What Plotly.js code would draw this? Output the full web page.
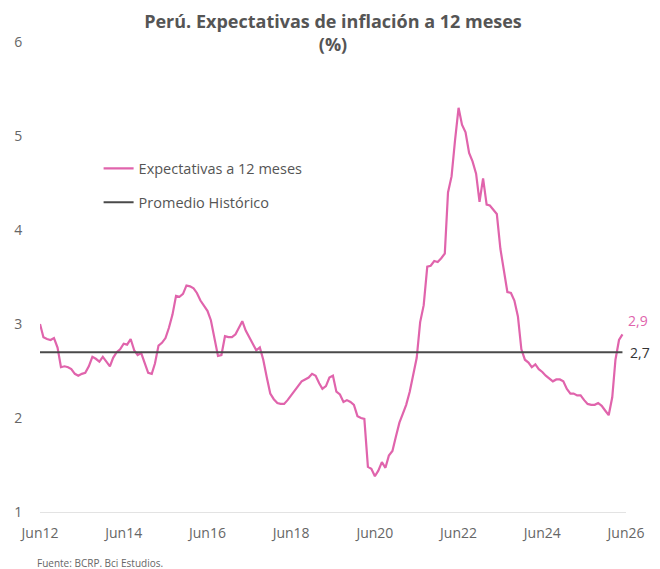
<!DOCTYPE html>
<html>
<head>
<meta charset="utf-8">
<script src="https://cdn.plot.ly/plotly-3.0.1.min.js"></script>
<style>html,body{margin:0;padding:0;background:#fff;}#chart{width:660px;height:569px;}</style>
</head>
<body>
<div id="chart"></div>
<script>
// Monthly series starting Jun 2012
var startYear = 2012, startMonth = 6;
var expectativas = [
3.00,2.86,2.84,2.83,2.85,2.75,2.54,2.55,2.54,2.52,2.47,2.45,
2.47,2.48,2.55,2.65,2.63,2.60,2.65,2.60,2.55,2.64,2.70,2.73,
2.79,2.78,2.84,2.72,2.67,2.69,2.58,2.48,2.47,2.58,2.77,2.80,
2.85,2.96,3.10,3.30,3.29,3.32,3.41,3.40,3.38,3.33,3.25,3.20,
3.14,3.04,2.83,2.66,2.67,2.87,2.86,2.86,2.89,2.96,3.03,2.93,
2.86,2.78,2.72,2.75,2.62,2.43,2.26,2.20,2.16,2.15,2.15,2.19,
2.24,2.29,2.34,2.39,2.41,2.43,2.47,2.45,2.37,2.31,2.34,2.43,
2.45,2.28,2.25,2.17,2.19,2.17,2.14,2.02,2.00,1.99,1.48,1.46,
1.38,1.44,1.53,1.47,1.60,1.65,1.80,1.95,2.05,2.14,2.28,2.46,
2.64,3.02,3.20,3.61,3.62,3.67,3.66,3.70,3.75,4.40,4.57,4.95,
5.30,5.12,5.04,4.82,4.73,4.60,4.30,4.55,4.27,4.26,4.21,4.17,
3.80,3.57,3.34,3.33,3.25,3.08,2.73,2.62,2.59,2.54,2.57,2.52,
2.49,2.45,2.42,2.39,2.41,2.41,2.39,2.31,2.26,2.26,2.24,2.24,
2.19,2.15,2.14,2.14,2.16,2.13,2.08,2.03,2.22,2.62,2.83,2.89
];
var promedio = 2.7;
var tickVals = ['2012-06-01','2014-06-01','2016-06-01','2018-06-01','2020-06-01','2022-06-01','2024-06-01','2026-06-01'];
var tickText = ['Jun12','Jun14','Jun16','Jun18','Jun20','Jun22','Jun24','Jun26'];
var yTicks = [1,2,3,4,5,6];
var lastLabel = '2,9', avgLabel = '2,7';

function monthDate(i){
  var t = (startMonth - 1) + i;
  var y = startYear + Math.floor(t / 12);
  var m = (t % 12) + 1;
  return y + '-' + (m < 10 ? '0' + m : m) + '-01';
}
var dates = expectativas.map(function(_, i){ return monthDate(i); });
var avgSeries = dates.map(function(){ return promedio; });

var pink = '#E064AC', dark = '#4a4a4a', txt = '#555555';
var fontFam = '"Open Sans", Lato, sans-serif';

var traces = [
  {x: dates, y: expectativas, type: 'scatter', mode: 'lines', name: 'Expectativas a 12 meses',
   legendgroup: 'a', line: {color: pink, width: 2.2}},
  {x: dates, y: avgSeries, type: 'scatter', mode: 'lines', name: 'Promedio Histórico',
   legendgroup: 'b', line: {color: dark, width: 2}}
];

var layout = {
  width: 660, height: 569,
  margin: {l: 40, r: 34, t: 42, b: 57},
  paper_bgcolor: '#fff', plot_bgcolor: '#fff',
  font: {family: fontFam, color: txt},
  title: {text: '<b>Perú. Expectativas de inflación a 12 meses</b><br><b>(%)</b>',
          font: {size: 18, color: '#555', family: fontFam},
          x: 0.5, xanchor: 'center', xref: 'paper', y: 0.951, yanchor: 'middle', yref: 'container'},
  xaxis: {type: 'date', range: ['2012-06-01', '2026-06-01'], tickvals: tickVals, ticktext: tickText,
          showgrid: false, zeroline: false, showline: true, linecolor: '#e3e3e3', linewidth: 1,
          ticks: 'outside', ticklen: 8, tickcolor: 'rgba(0,0,0,0)',
          tickfont: {size: 14, color: '#666'}},
  yaxis: {range: [1, 6], tickvals: yTicks, showgrid: false, zeroline: false, showline: false,
          ticks: 'outside', ticklen: 14, tickcolor: 'rgba(0,0,0,0)',
          tickfont: {size: 14, color: '#666'}},
  showlegend: true,
  legend: {x: 0.1, y: 0.765, xanchor: 'left', yanchor: 'top', bgcolor: 'rgba(0,0,0,0)',
           traceorder: 'grouped', tracegroupgap: 12,
           font: {size: 14.5, color: txt}, itemwidth: 30},
  annotations: [
    {x: dates[dates.length - 1], y: expectativas[expectativas.length - 1], xref: 'x', yref: 'y',
     text: lastLabel, showarrow: false, xanchor: 'left', xshift: 4, yshift: 14,
     font: {size: 14, color: pink}},
    {x: dates[dates.length - 1], y: promedio, xref: 'x', yref: 'y',
     text: avgLabel, showarrow: false, xanchor: 'left', xshift: 6, yshift: 0,
     font: {size: 14, color: '#333'}},
    {x: -0.009, y: -0.1085, xref: 'paper', yref: 'paper', xanchor: 'left', yanchor: 'middle',
     text: 'Fuente: BCRP. Bci Estudios.', showarrow: false, font: {size: 10, color: '#666'}}
  ]
};

Plotly.newPlot('chart', traces, layout, {displayModeBar: false, staticPlot: true});
</script>
</body>
</html>
